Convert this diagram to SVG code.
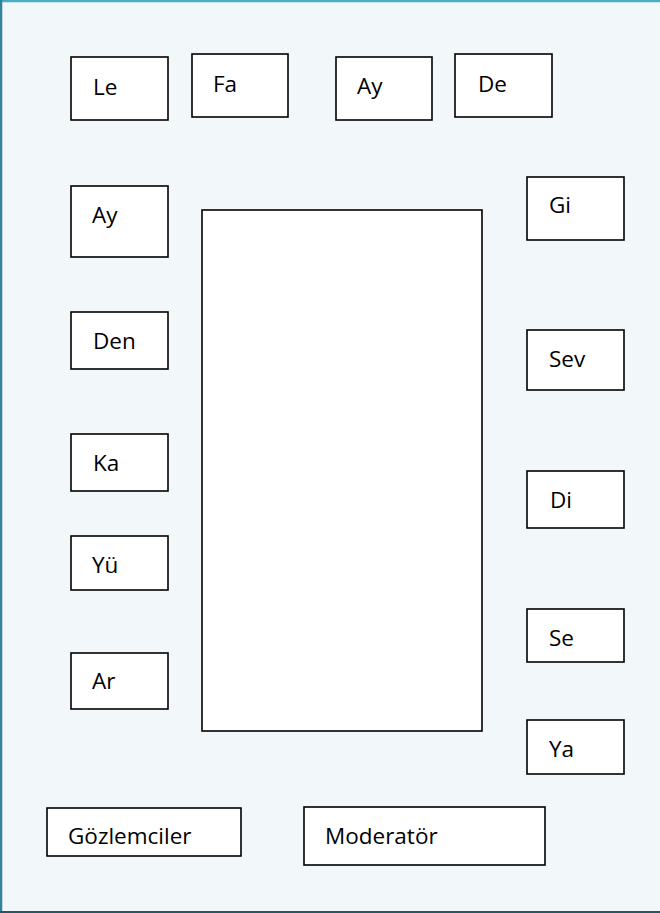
<svg xmlns="http://www.w3.org/2000/svg" width="660" height="913" viewBox="0 0 660 913">
<style>
.b{fill:#fff;stroke:#000;stroke-width:1.6}
.t{font-family:"Open Sans","Noto Sans",sans-serif;font-size:22.5px;fill:#000}
</style>
<rect x="0" y="0" width="660" height="913" fill="#f2f7fa"/>
<line x1="0" y1="1" x2="660" y2="1" stroke="#4bacc6" stroke-width="2.5"/>
<line x1="1" y1="0" x2="1" y2="913" stroke="#31849b" stroke-width="2.5"/>
<line x1="0" y1="912" x2="660" y2="912" stroke="#215868" stroke-width="2"/>
<g id="center"><rect class="b" x="202" y="210" width="280" height="521" stroke-width="2"/></g>
<g id="le"><rect class="b" x="71" y="57" width="97" height="63"/><text class="t" x="93" y="95">Le</text></g>
<g id="fa"><rect class="b" x="192" y="54" width="96" height="63"/><text class="t" x="213" y="92">Fa</text></g>
<g id="ay1"><rect class="b" x="336" y="57" width="96" height="63"/><text class="t" x="357" y="94">Ay</text></g>
<g id="de"><rect class="b" x="455" y="54" width="97" height="63"/><text class="t" x="478" y="92">De</text></g>
<g id="ay2"><rect class="b" x="71" y="186" width="97" height="71"/><text class="t" x="92" y="223">Ay</text></g>
<g id="den"><rect class="b" x="71" y="312" width="97" height="57"/><text class="t" x="93" y="349">Den</text></g>
<g id="ka"><rect class="b" x="71" y="434" width="97" height="57"/><text class="t" x="93" y="471">Ka</text></g>
<g id="yu"><rect class="b" x="71" y="536" width="97" height="54"/><text class="t" x="92" y="573">Yü</text></g>
<g id="ar"><rect class="b" x="71" y="653" width="97" height="56"/><text class="t" x="92" y="689">Ar</text></g>
<g id="gi"><rect class="b" x="527" y="177" width="97" height="63"/><text class="t" x="549" y="213">Gi</text></g>
<g id="sev"><rect class="b" x="527" y="330" width="97" height="60"/><text class="t" x="549" y="367">Sev</text></g>
<g id="di"><rect class="b" x="527" y="471" width="97" height="57"/><text class="t" x="550" y="508">Di</text></g>
<g id="se"><rect class="b" x="527" y="609" width="97" height="53"/><text class="t" x="549" y="646">Se</text></g>
<g id="ya"><rect class="b" x="527" y="720" width="97" height="54"/><text class="t" x="549" y="757">Ya</text></g>
<g id="gozlemciler"><rect class="b" x="47" y="808" width="194" height="48"/><text class="t" x="68" y="844">Gözlemciler</text></g>
<g id="moderator"><rect class="b" x="304" y="807" width="241" height="58"/><text class="t" x="325" y="844">Moderatör</text></g>
<g id="connectors"/>
</svg>
